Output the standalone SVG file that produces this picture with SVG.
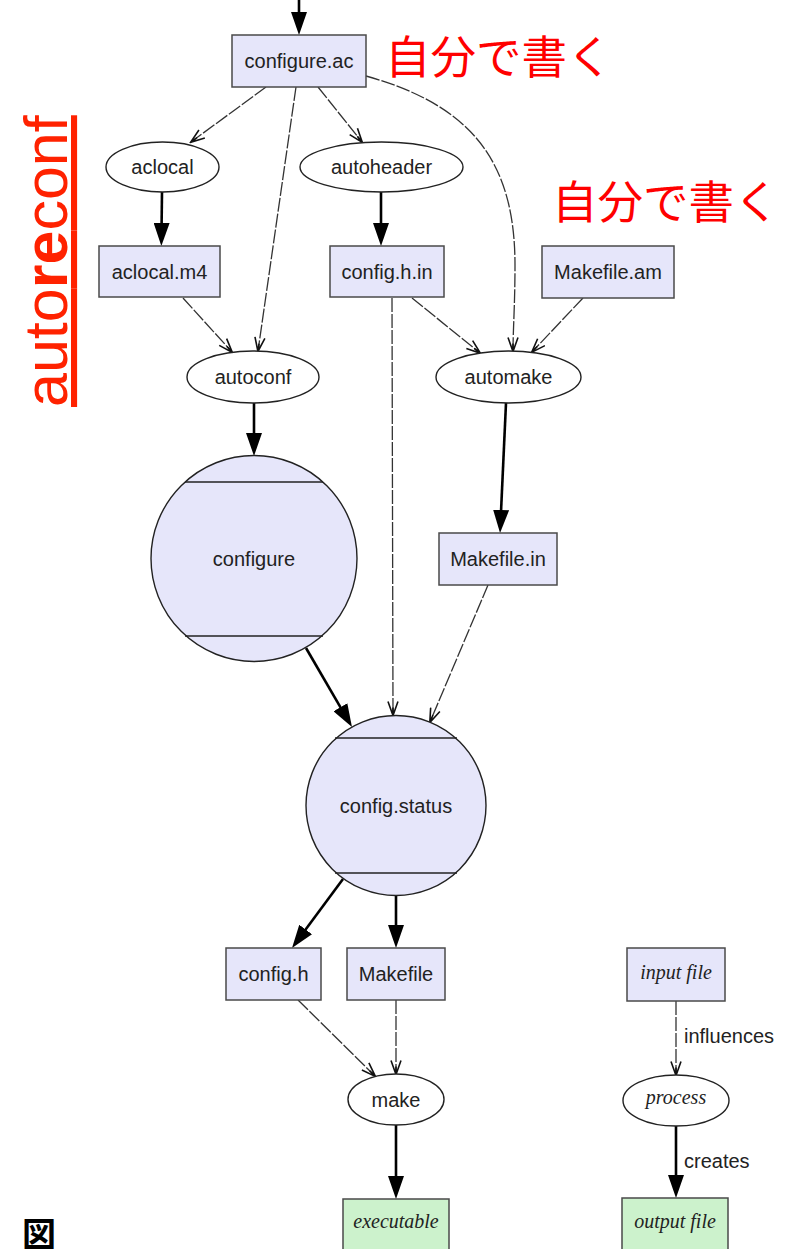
<svg xmlns="http://www.w3.org/2000/svg" width="791" height="1249" viewBox="0 0 791 1249">
<style>
.box{fill:#e6e6fa;stroke:#4a4a4a;stroke-width:1.5}
.out{fill:#ccf2cc;stroke:#4a4a4a;stroke-width:1.5}
.ell{fill:#ffffff;stroke:#222;stroke-width:1.4}
.circ{fill:#e6e6fa;stroke:#222;stroke-width:1.4}
.bar{stroke:#222;stroke-width:1.4}
.lbl{font-family:"Liberation Sans",Arial,sans-serif;font-size:20px;fill:#222;text-anchor:middle}
.ital{font-family:"Liberation Serif","Times New Roman",serif;font-style:italic;font-size:20px;fill:#222;text-anchor:middle}
.elbl{font-family:"Liberation Sans",Arial,sans-serif;font-size:20px;fill:#222}
.jp{font-family:"Noto Sans CJK JP",sans-serif;font-size:45.5px;fill:#ff0000}
.bold{fill:none;stroke:#000;stroke-width:2.6}
.dash{fill:none;stroke:#333;stroke-width:1.3;stroke-dasharray:14,2}
</style>
<defs>
<marker id="fill" markerUnits="userSpaceOnUse" viewBox="0 0 23 16" markerWidth="23" markerHeight="16" refX="2" refY="8" orient="auto">
<path d="M0,0 L23,8 L0,16 z" fill="#000"/>
</marker>
<marker id="vee" markerUnits="userSpaceOnUse" viewBox="0 0 16 12" markerWidth="16" markerHeight="12" refX="14.5" refY="6" orient="auto">
<path d="M1,1 L15,6 L1,11 M15,6 L7,6" fill="none" stroke="#111" stroke-width="1.6"/>
</marker>
</defs>

<g id="connectors">
<line class="bold" x1="299" y1="0" x2="299" y2="14" marker-end="url(#fill)"/>
<line class="bold" x1="162" y1="192" x2="161.6" y2="225" marker-end="url(#fill)"/>
<line class="bold" x1="381" y1="192" x2="381" y2="225" marker-end="url(#fill)"/>
<line class="bold" x1="254" y1="403" x2="254" y2="435" marker-end="url(#fill)"/>
<line class="bold" x1="506" y1="403" x2="501" y2="512" marker-end="url(#fill)"/>
<line class="bold" x1="306" y1="648" x2="341.4" y2="708.9" marker-end="url(#fill)"/>
<line class="bold" x1="343" y1="879" x2="304.5" y2="931.1" marker-end="url(#fill)"/>
<line class="bold" x1="396" y1="895" x2="396" y2="927" marker-end="url(#fill)"/>
<line class="bold" x1="396" y1="1125" x2="396" y2="1178" marker-end="url(#fill)"/>
<line class="bold" x1="676" y1="1126" x2="676" y2="1177" marker-end="url(#fill)"/>

<line class="dash" x1="266" y1="87" x2="191" y2="142" marker-end="url(#vee)"/>
<line class="dash" x1="296" y1="87" x2="258" y2="351" marker-end="url(#vee)"/>
<line class="dash" x1="318" y1="87" x2="362" y2="142" marker-end="url(#vee)"/>
<path class="dash" d="M366,76 C470,105 515,160 515,265 C515,305 513,330 513,351" marker-end="url(#vee)"/>
<line class="dash" x1="183" y1="298" x2="232" y2="352" marker-end="url(#vee)"/>
<line class="dash" x1="412" y1="298" x2="480" y2="353" marker-end="url(#vee)"/>
<line class="dash" x1="583" y1="298" x2="532" y2="352" marker-end="url(#vee)"/>
<line class="dash" x1="392" y1="298" x2="393" y2="715" marker-end="url(#vee)"/>
<line class="dash" x1="488" y1="585" x2="430" y2="722" marker-end="url(#vee)"/>
<line class="dash" x1="298" y1="1000" x2="375" y2="1076" marker-end="url(#vee)"/>
<line class="dash" x1="396" y1="1000" x2="396" y2="1074" marker-end="url(#vee)"/>
<line class="dash" x1="676" y1="1001" x2="676" y2="1075" marker-end="url(#vee)"/>
<text class="elbl" x="684" y="1043">influences</text>
<text class="elbl" x="684" y="1168">creates</text>
</g>

<g id="configure_ac"><rect class="box" x="232" y="35" width="134" height="52"/><text class="lbl" x="299" y="68">configure.ac</text></g>
<g id="aclocal"><ellipse class="ell" cx="162.5" cy="167" rx="56.5" ry="25"/><text class="lbl" x="162.5" y="174">aclocal</text></g>
<g id="autoheader"><ellipse class="ell" cx="381.5" cy="167" rx="81.5" ry="25"/><text class="lbl" x="381.5" y="174">autoheader</text></g>
<g id="aclocal_m4"><rect class="box" x="99" y="246" width="121" height="51"/><text class="lbl" x="159.5" y="278.5">aclocal.m4</text></g>
<g id="config_h_in"><rect class="box" x="330" y="246" width="114" height="51"/><text class="lbl" x="387" y="278.5">config.h.in</text></g>
<g id="Makefile_am"><rect class="box" x="542" y="246" width="132" height="52"/><text class="lbl" x="608" y="279">Makefile.am</text></g>
<g id="autoconf"><ellipse class="ell" cx="253" cy="377" rx="66" ry="26"/><text class="lbl" x="253" y="384">autoconf</text></g>
<g id="automake"><ellipse class="ell" cx="508.5" cy="377" rx="72.5" ry="26"/><text class="lbl" x="508.5" y="384">automake</text></g>
<g id="configure"><circle class="circ" cx="254" cy="558.5" r="103"/><line class="bar" x1="185" y1="482" x2="323" y2="482"/><line class="bar" x1="185" y1="636" x2="323" y2="636"/><text class="lbl" x="254" y="565.5">configure</text></g>
<g id="Makefile_in"><rect class="box" x="439" y="533" width="118" height="52"/><text class="lbl" x="498" y="566">Makefile.in</text></g>
<g id="config_status"><circle class="circ" cx="396" cy="805.5" r="90"/><line class="bar" x1="335" y1="738" x2="457" y2="738"/><line class="bar" x1="335" y1="873" x2="457" y2="873"/><text class="lbl" x="396" y="812.5">config.status</text></g>
<g id="config_h"><rect class="box" x="226" y="948" width="95" height="52"/><text class="lbl" x="273.5" y="981">config.h</text></g>
<g id="Makefile"><rect class="box" x="347" y="948" width="98" height="52"/><text class="lbl" x="396" y="981">Makefile</text></g>
<g id="make"><ellipse class="ell" cx="396" cy="1099.5" rx="48" ry="25.5"/><text class="lbl" x="396" y="1106.5">make</text></g>
<g id="executable"><rect class="out" x="343" y="1199" width="106" height="56"/><text class="ital" x="396" y="1228">executable</text></g>
<g id="input_file"><rect class="box" x="627" y="948" width="98" height="53"/><text class="ital" x="676" y="979">input file</text></g>
<g id="process"><ellipse class="ell" cx="676" cy="1100.5" rx="53" ry="25.5"/><text class="ital" x="676" y="1104">process</text></g>
<g id="output_file"><rect class="out" x="622" y="1198" width="106" height="57"/><text class="ital" x="675" y="1228">output file</text></g>

<g id="annotations">
<text class="jp" x="385" y="74">自分で書く</text>
<text class="jp" x="552" y="219">自分で書く</text>
<text transform="translate(67,407) rotate(-90)" font-family="'Liberation Sans',Arial,sans-serif" font-size="61" fill="#ff2200" text-decoration="underline">auto<tspan font-weight="bold">re</tspan>conf</text>
<text x="22" y="1247" font-family="'Noto Sans CJK JP',sans-serif" font-weight="bold" font-size="34" fill="#000">図</text>
</g>
</svg>
